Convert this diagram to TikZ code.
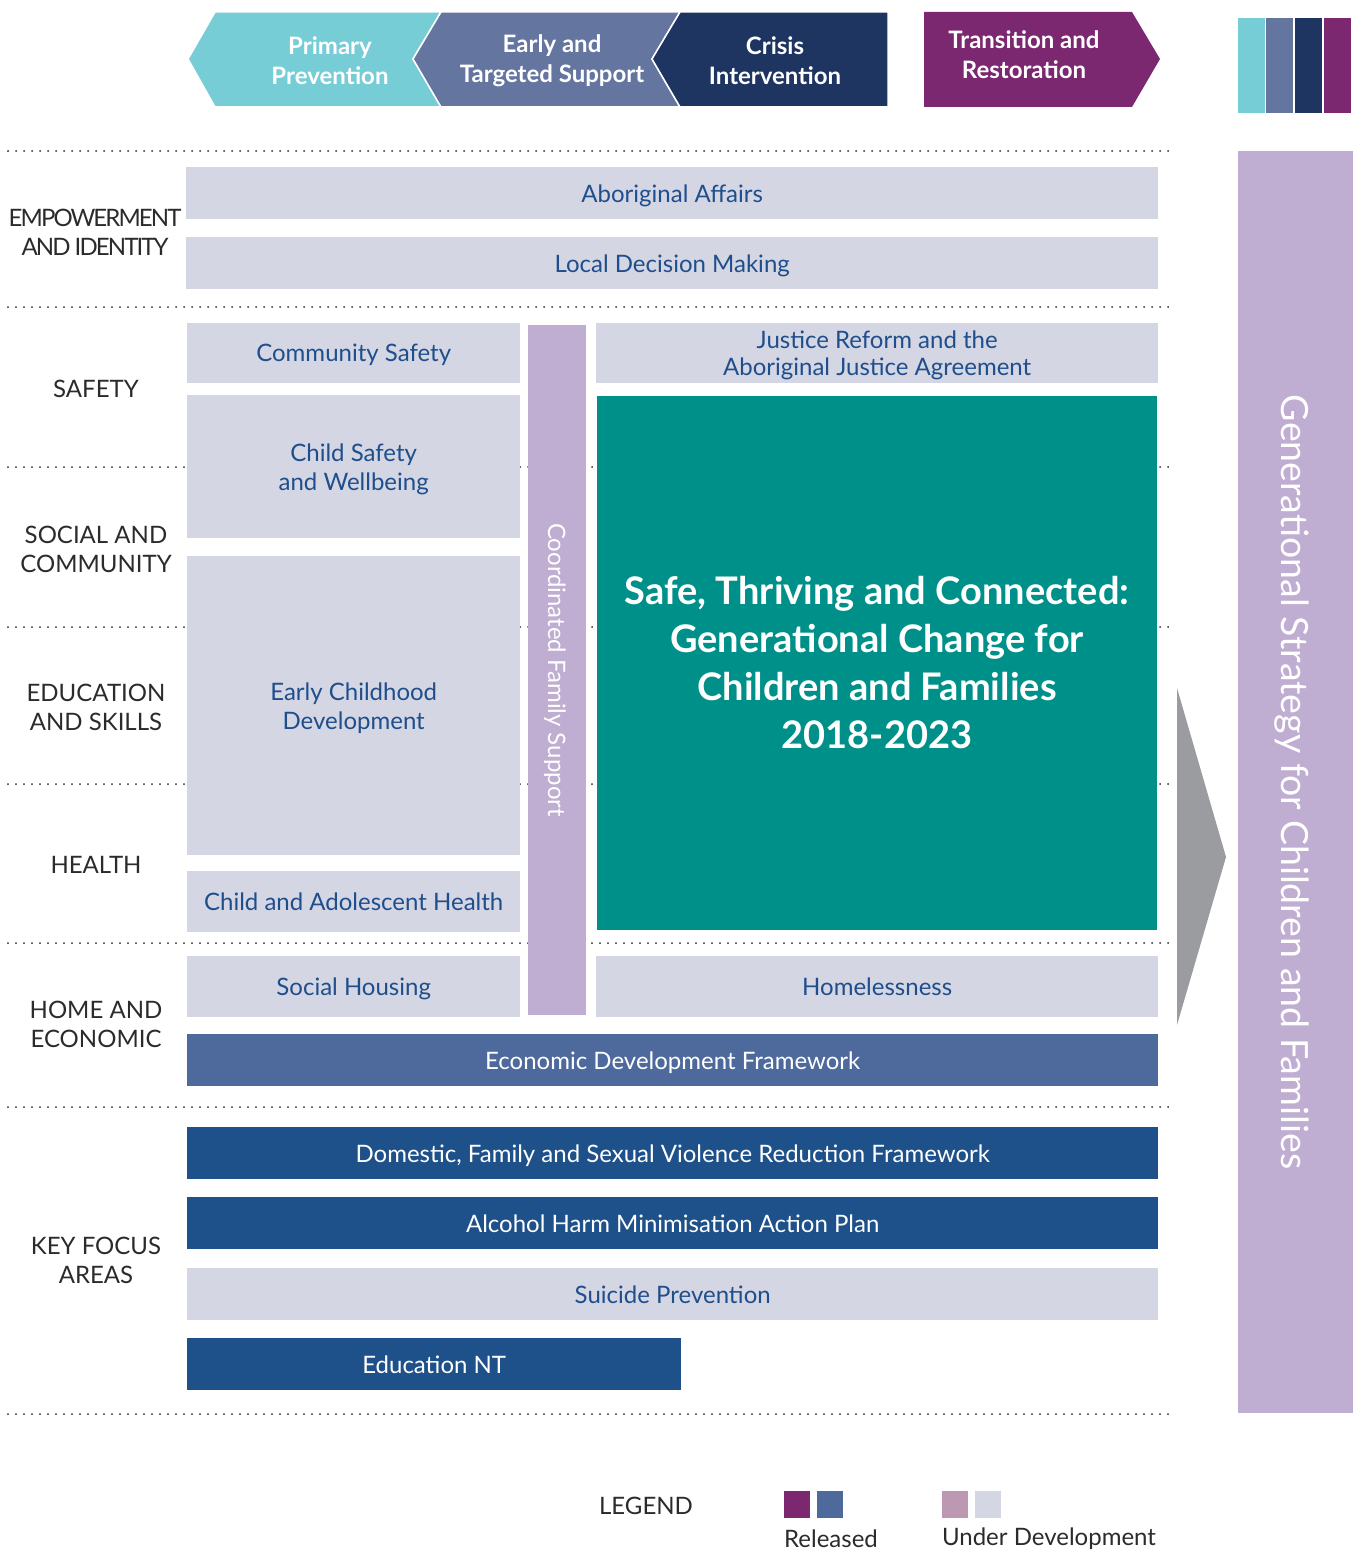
\documentclass[tikz,border=0pt]{standalone}
\usepackage{fontspec}
\setmainfont{Lato}
\usetikzlibrary{positioning}

\definecolor{phaseTeal}{HTML}{77CDD5}
\definecolor{phaseSlate}{HTML}{6475A0}
\definecolor{phaseNavy}{HTML}{1E3461}
\definecolor{phasePlum}{HTML}{7B2870}
\definecolor{liteGrey}{HTML}{D4D6E3}
\definecolor{inkBlue}{HTML}{1F4E8C}
\definecolor{lavender}{HTML}{BFADD2}
\definecolor{strategyTeal}{HTML}{00908A}
\definecolor{relBlue}{HTML}{4E6A9C}
\definecolor{darkBlue}{HTML}{1E508A}
\definecolor{arrowGrey}{HTML}{9B9CA0}
\definecolor{mauve}{HTML}{BC98B2}
\definecolor{labelGrey}{HTML}{2B2B2B}

\tikzset{
  band/.style={anchor=north west, inner sep=0pt, align=center, text depth=0pt,
    font=\fontsize{24}{28}\selectfont},
  sz/.style n args={2}{minimum width=#1, minimum height=#2},
  lite/.style={band, fill=liteGrey, text=inkBlue},
  rel/.style={band, fill=relBlue, text=white},
  dark/.style={band, fill=darkBlue, text=white},
  rowlabel/.style={align=center, text=labelGrey, font=\fontsize{24}{29}\selectfont},
  phase/.style={draw=white, line width=1.5pt},
  phasetext/.style={align=center, text=white, font=\bfseries\fontsize{24}{30}\selectfont},
  divider/.style={labelGrey, line width=2pt, line cap=round, dash pattern=on 0pt off 8pt},
  legendtext/.style={text=labelGrey, font=\fontsize{24}{28}\selectfont}
}

\begin{document}
\begin{tikzpicture}[x=1pt, y=-1pt]
  \useasboundingbox (0,0) rectangle (1361,1552);

  % row dividers
  \foreach \yy in {151,307,467,627,784,943,1107,1414}
    \draw[divider] (8,\yy) -- (1168,\yy);

  % phase chevrons
  \fill[phaseTeal, phase] (188,59) -- (215,12) -- (441,12) -- (413,59) -- (441,107) -- (215,107) -- cycle;
  \fill[phaseSlate, phase] (413,59) -- (441,12) -- (680,12) -- (652,59) -- (680,107) -- (441,107) -- cycle;
  \fill[phaseNavy, phase] (652,59) -- (680,12) -- (888,12) -- (888,107) -- (680,107) -- cycle;
  \fill[phasePlum] (924,12) -- (1132,12) -- (1160,59) -- (1132,107) -- (924,107) -- cycle;
  \node[phasetext] (primary) at (330,61) {Primary\\Prevention};
  \node[phasetext] (early) at (552,61) {Early and\\Targeted Support};
  \node[phasetext] (crisis) at (775,61) {Crisis\\Intervention};
  \node[phasetext] (transition) at (1024,55) {Transition and\\Restoration};

  % colour key top right
  \foreach \xx/\cc in {1238/phaseTeal,1266/phaseSlate,1295/phaseNavy,1324/phasePlum}
    \fill[\cc] (\xx,18) rectangle ++(27,95);

  % row labels
  \node[rowlabel, font=\fontsize{24}{29}\selectfont\addfontfeature{LetterSpace=-8}] (empower) at (95,232) {EMPOWERMENT\\AND IDENTITY};
  \node[rowlabel] (safety) at (96,389) {SAFETY};
  \node[rowlabel] (social) at (96,549) {SOCIAL AND\\COMMUNITY};
  \node[rowlabel] (education) at (96,707) {EDUCATION\\AND SKILLS};
  \node[rowlabel] (health) at (96,865) {HEALTH};
  \node[rowlabel] (home) at (96,1024) {HOME AND\\ECONOMIC};
  \node[rowlabel] (keyfocus) at (96,1260) {KEY FOCUS\\AREAS};

  % frameworks
  \node[lite, sz={972pt}{52pt}] (aboriginal) at (186,167) {Aboriginal Affairs};
  \node[lite, sz={972pt}{52pt}] (localdm) at (186,237) {Local Decision Making};
  \node[lite, sz={333pt}{60pt}] (commsafety) at (187,323) {Community Safety};
  \node[lite, sz={333pt}{143pt}, font=\fontsize{24}{29}\selectfont] (childsafety) at (187,395) {Child Safety\\and Wellbeing};
  \node[lite, sz={333pt}{299pt}, font=\fontsize{24}{29}\selectfont] (ecd) at (187,556) {Early Childhood\\Development};
  \node[lite, sz={333pt}{61pt}] (cah) at (187,871) {Child and Adolescent Health};
  \node[lite, sz={333pt}{61pt}] (housing) at (187,956) {Social Housing};
  \node[lite, sz={562pt}{60pt}, font=\fontsize{24}{27}\selectfont] (justice) at (596,323) {Justice Reform and the\\Aboriginal Justice Agreement};
  \node[lite, sz={562pt}{61pt}] (homeless) at (596,956) {Homelessness};
  \node[rel, sz={971pt}{52pt}] (econ) at (187,1034) {Economic Development Framework};
  \node[dark, sz={971pt}{52pt}] (dfsv) at (187,1127) {Domestic, Family and Sexual Violence Reduction Framework};
  \node[dark, sz={971pt}{52pt}] (alcohol) at (187,1197) {Alcohol Harm Minimisation Action Plan};
  \node[lite, sz={971pt}{52pt}] (suicide) at (187,1268) {Suicide Prevention};
  \node[dark, sz={494pt}{52pt}] (ednt) at (187,1338) {Education NT};

  % coordinated family support bar
  \node[fill=lavender, text=white, rotate=-90, inner sep=0pt, text depth=0pt, sz={690pt}{58pt},
    font=\fontsize{24}{26}\selectfont] (cfs) at (557,670) {Coordinated Family Support};

  % the strategy itself
  \node[fill=strategyTeal, text=white, inner sep=0pt, align=center, sz={560pt}{534pt},
    font=\bfseries\fontsize{38}{48}\selectfont] (strategy) at (877,663)
    {Safe, Thriving and Connected:\\Generational Change for\\Children and Families\\2018-2023};

  % arrow into the generational strategy
  \fill[arrowGrey] (1177,688) -- (1226,857) -- (1177,1025) -- cycle;
  \node[fill=lavender, text=white, rotate=-90, inner sep=0pt, text depth=0pt, sz={1262pt}{115pt},
    font=\fontsize{37.5}{40}\selectfont] (generational) at (1295.5,782)
    {Generational Strategy for Children and Families};

  % legend
  \node[legendtext] (legend) at (646,1506) {LEGEND};
  \fill[phasePlum] (784,1491) rectangle ++(26,27);
  \fill[relBlue] (817,1491) rectangle ++(26,27);
  \fill[mauve] (942,1491) rectangle ++(26,27);
  \fill[liteGrey] (975,1491) rectangle ++(26,27);
  \node[legendtext] (released) at (831,1539) {Released};
  \node[legendtext] (underdev) at (1049,1539) {Under Development};
\end{tikzpicture}
\end{document}
